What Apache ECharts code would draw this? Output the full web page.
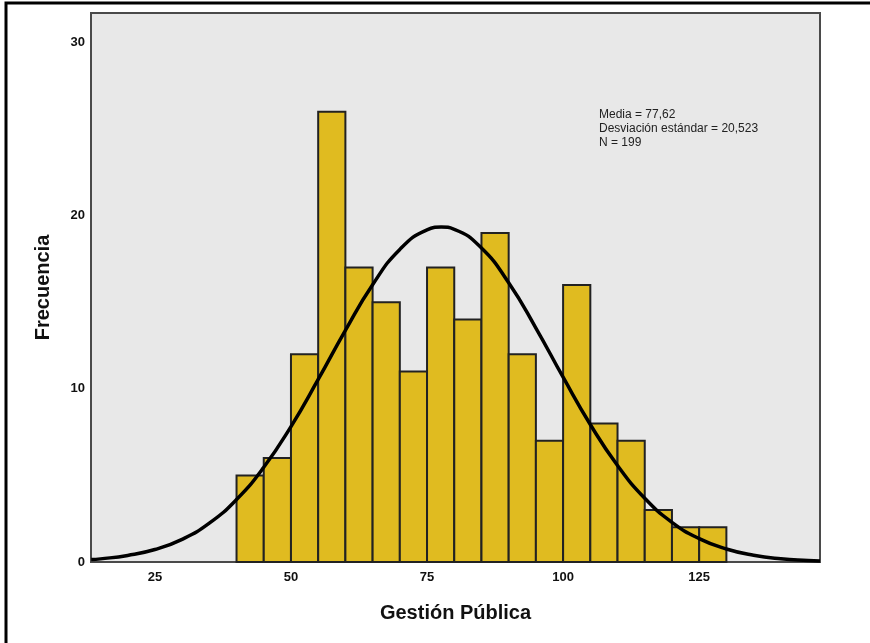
<!DOCTYPE html>
<html>
<head>
<meta charset="utf-8">
<script src="https://cdn.jsdelivr.net/npm/echarts@6/dist/echarts.min.js"></script>
<style>
  html, body { margin: 0; padding: 0; background: #fff; }
  #chart { width: 870px; height: 643px; }
</style>
</head>
<body>
<div id="chart"></div>
<script>
// intervalos del histograma (ancho 5)
const binStart = [40, 45, 50, 55, 60, 65, 70, 75, 80, 85, 90, 95, 100, 105, 110, 115, 120, 125]
const binWidth = 5
const freq = [5, 6, 12, 26, 17, 15, 11, 17, 14, 19, 12, 7, 16, 8, 7, 3, 2, 2]

// curva normal
const curveX = [13.3, 15, 20, 25, 30, 35, 40, 45, 50, 55, 60, 65, 70, 75, 77.6, 80, 85, 90, 95, 100, 105, 110, 115, 120, 125, 130, 135, 140, 145, 147.2]
const curveY = [0.14, 0.18, 0.38, 0.72, 1.31, 2.24, 3.61, 5.47, 7.82, 10.54, 13.38, 16.01, 18.05, 19.18, 19.34, 19.21, 18.13, 16.12, 13.51, 10.67, 7.94, 5.57, 3.68, 2.29, 1.35, 0.75, 0.39, 0.19, 0.09, 0.06]

const xTicks = [25, 50, 75, 100, 125]
const yTicks = [0, 10, 20, 30]
const statsLines = ['Media = 77,62', 'Desviación estándar = 20,523', 'N = 199']

const font = 'Arial, "Liberation Sans", sans-serif'

const histData = binStart.map((b, i) => [b, b + binWidth, freq[i]])
const curveData = curveX.map((x, i) => [x, curveY[i]])

const chart = echarts.init(document.getElementById('chart'))

const option = {
  animation: false,
  grid: {
    left: 91, top: 13, right: 50, bottom: 81,
    show: true,
    backgroundColor: '#e8e8e8',
    borderColor: '#4a4a4a',
    borderWidth: 2
  },
  xAxis: {
    type: 'value',
    min: 13.26,
    max: 147.2,
    name: 'Gestión Pública',
    nameLocation: 'middle',
    nameGap: 41,
    nameTextStyle: { fontFamily: font, fontWeight: 'bold', fontSize: 20, color: '#111' },
    axisLine: { show: false },
    axisTick: { show: false },
    splitLine: { show: false },
    axisLabel: {
      customValues: xTicks,
      fontFamily: font, fontWeight: 'bold', fontSize: 13, color: '#111',
      margin: 9
    }
  },
  yAxis: {
    type: 'value',
    min: 0,
    max: 31.7,
    name: 'Frecuencia',
    nameLocation: 'middle',
    nameGap: 38,
    nameRotate: 90,
    nameTextStyle: { fontFamily: font, fontWeight: 'bold', fontSize: 20, color: '#111' },
    axisLine: { show: false },
    axisTick: { show: false },
    splitLine: { show: false },
    axisLabel: {
      customValues: yTicks,
      fontFamily: font, fontWeight: 'bold', fontSize: 13, color: '#111',
      margin: 6
    }
  },
  graphic: [
    {
      type: 'rect',
      shape: { x: 6, y: 3, width: 1000, height: 1000 },
      style: { fill: 'none', stroke: '#000', lineWidth: 3 },
      silent: true
    },
    {
      type: 'text',
      left: 599,
      top: 108,
      style: {
        text: statsLines.join('\n'),
        font: '12px ' + font,
        fill: '#222',
        lineHeight: 14
      }
    }
  ],
  series: [
    {
      type: 'custom',
      data: histData,
      encode: { x: [0, 1], y: 2 },
      renderItem: (params, api) => {
        const p0 = api.coord([api.value(0), 0])
        const p1 = api.coord([api.value(1), api.value(2)])
        return {
          type: 'rect',
          shape: { x: p0[0], y: p1[1], width: p1[0] - p0[0], height: p0[1] - p1[1] },
          style: { fill: '#e0bb20', stroke: '#222', lineWidth: 2 }
        }
      },
      z: 2
    },
    {
      type: 'line',
      data: curveData,
      smooth: true,
      symbol: 'none',
      lineStyle: { color: '#000', width: 3.5 },
      z: 3
    }
  ]
}

chart.setOption(option)
</script>
</body>
</html>
